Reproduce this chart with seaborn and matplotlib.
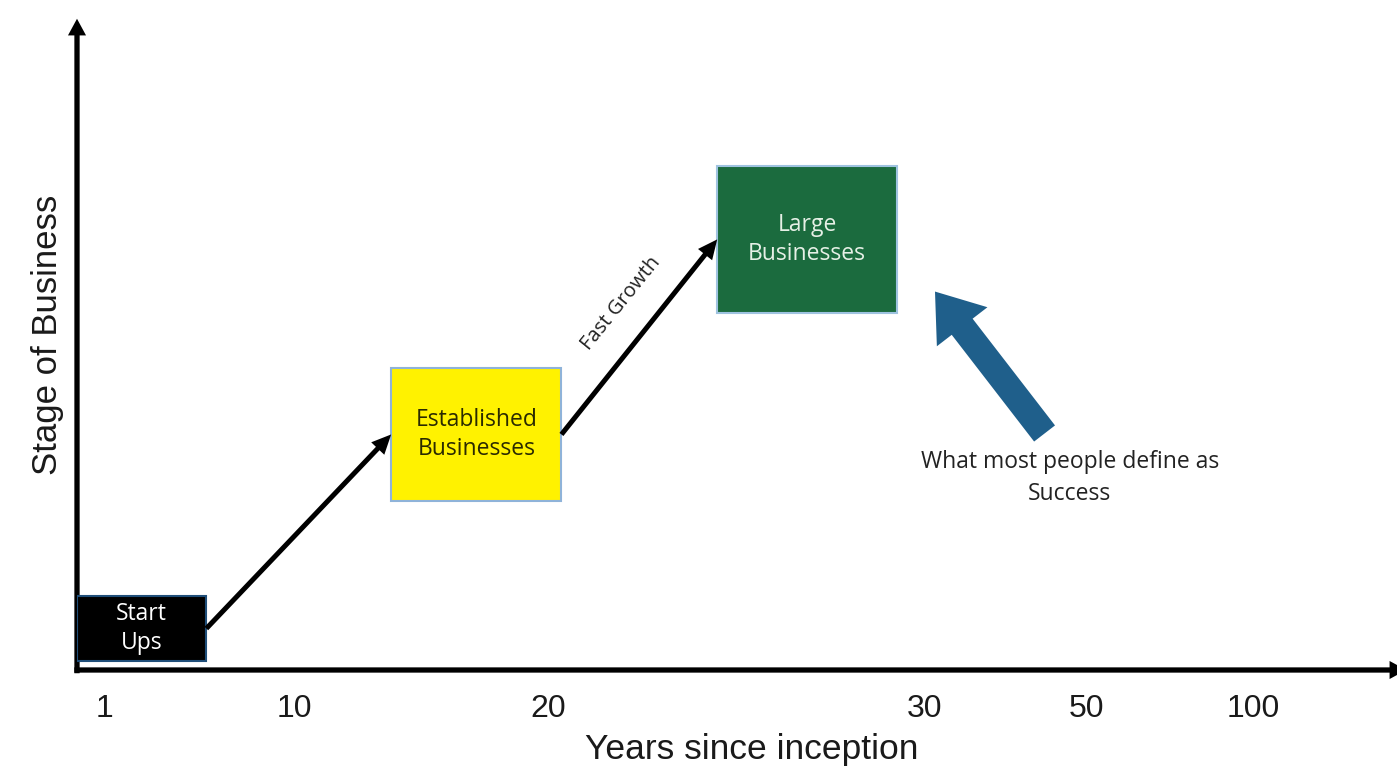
import matplotlib
matplotlib.use("Agg")
import matplotlib.pyplot as plt
import seaborn as sns
from matplotlib.patches import Rectangle

# --- data ---
year_labels = ['1', '10', '20', '30', '50', '100']
stage_names = ['Start\nUps', 'Established\nBusinesses', 'Large\nBusinesses']
growth_label = 'Fast Growth'
success_label = 'What most people define as\nSuccess'
x_title = 'Years since inception'
y_title = 'Stage of Business'

# --- layout (axis units 0..100) ---
year_pos = [2.1, 16.5, 35.7, 64.2, 76.5, 89.1]
stage_left = [0.0, 23.8, 48.5]
stage_bottom = [1.4, 26.1, 55.1]
stage_width = [9.8, 12.9, 13.6]
stage_height = [10.0, 20.5, 22.7]
stage_face = ['#000000', '#fff200', '#1b6b3e']
stage_edge = ['#1f4e79', '#8fb3d9', '#9fc3e0']
stage_text = ['#ffffff', '#2a2a00', '#e6f0e6']

sns.set_style("white")
plt.rcParams['font.family'] = ['Liberation Sans', 'DejaVu Sans']

fig = plt.figure(figsize=(13.97, 7.73), dpi=100)
ax = fig.add_axes([77 / 1397, 103 / 773, 1320 / 1397, 648 / 773])
ax.set_xlim(0, 100)
ax.set_ylim(0, 100)
for s in ax.spines.values():
    s.set_visible(False)
ax.set_yticks([])
ax.set_xticks(year_pos, year_labels)
ax.tick_params(axis='x', length=0, pad=17, labelsize=23, colors='#1a1a1a')

# axis arrows
axis_kw = dict(arrowstyle='simple,head_width=1.3,head_length=1.2,tail_width=0.38',
               color='black', mutation_scale=10, lw=0, shrinkA=0, shrinkB=0)
ax.annotate('', xy=(0, 1.005), xytext=(0, -0.005), xycoords='axes fraction',
            arrowprops=axis_kw, annotation_clip=False)
ax.annotate('', xy=(1.007, 0), xytext=(-0.002, 0), xycoords='axes fraction',
            arrowprops=axis_kw, annotation_clip=False)

# stage boxes
for i, name in enumerate(stage_names):
    ax.add_patch(Rectangle((stage_left[i], stage_bottom[i]), stage_width[i], stage_height[i],
                           facecolor=stage_face[i], edgecolor=stage_edge[i], lw=1.5, zorder=3))
    ax.text(stage_left[i] + stage_width[i] / 2, stage_bottom[i] + stage_height[i] / 2, name,
            ha='center', va='center', color=stage_text[i], fontsize=16.5,
            family=['Open Sans', 'DejaVu Sans'], linespacing=1.3, zorder=4)

# growth connectors: right-middle of one box to left-middle of the next
for i in range(len(stage_names) - 1):
    start = (stage_left[i] + stage_width[i], stage_bottom[i] + stage_height[i] / 2)
    end = (stage_left[i + 1], stage_bottom[i + 1] + stage_height[i + 1] / 2)
    ax.annotate('', xy=end, xytext=start,
                arrowprops=dict(arrowstyle='simple,head_width=1.3,head_length=1.4,tail_width=0.36',
                                color='black', mutation_scale=10, lw=0, shrinkA=0, shrinkB=0))

ax.text(41.2, 56.6, growth_label, rotation=51, ha='center', va='center',
        fontsize=14.5, family=['Open Sans', 'DejaVu Sans'], color='#222222')

# success pointer
ax.annotate('', xy=(65.0, 58.4), xytext=(73.3, 36.5),
            arrowprops=dict(arrowstyle='simple,head_width=2.3,head_length=1.6,tail_width=0.95',
                            mutation_scale=20, color='#1f5f8b', lw=0, shrinkA=0, shrinkB=0))
ax.text(75.2, 29.6, success_label, ha='center', va='center', fontsize=16.5,
        family=['Open Sans', 'DejaVu Sans'], color='#222222', linespacing=1.45)

fig.text(752 / 1397, 1 - 750 / 773, x_title, ha='center', va='center', fontsize=25.5,
         color='#1a1a1a')
fig.text(48 / 1397, 1 - 335 / 773, y_title, ha='center', va='center', fontsize=25,
         rotation=90, color='#1a1a1a')

fig.savefig('out.png', dpi=100)
